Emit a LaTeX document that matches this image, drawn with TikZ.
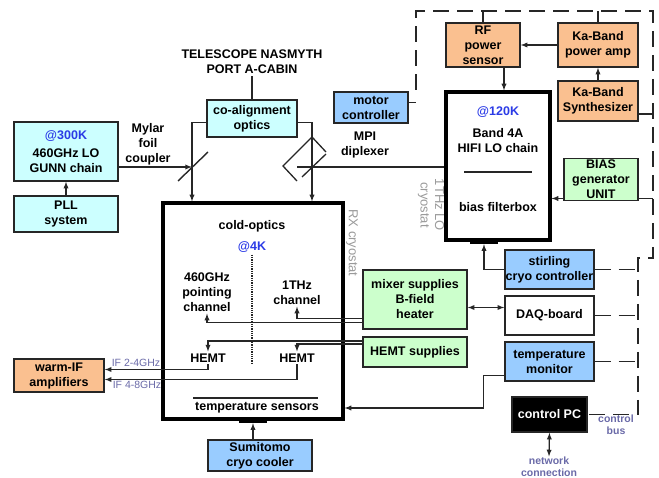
\documentclass[tikz,border=0pt]{standalone}
\usepackage{fontspec}
\setmainfont{Liberation Sans}
\usetikzlibrary{arrows, calc, positioning}
\definecolor{cyanfill}{HTML}{CCFFFF}
\definecolor{warmfill}{HTML}{FAC090}
\definecolor{bluefill}{HTML}{99CCFF}
\definecolor{greenfill}{HTML}{CCFFCC}
\definecolor{tempblue}{HTML}{2B3BE6}
\definecolor{labelgray}{HTML}{9A9A9A}
\definecolor{busslate}{HTML}{6A6AA8}
\tikzstyle{block} = [rectangle, draw=black!85, line width=1.4pt, align=center, inner sep=0pt, font=\fontsize{12.5}{15}\selectfont\bfseries]
\tikzstyle{cryo} = [rectangle, draw=black, line width=3.2pt, inner sep=0pt]
\tikzstyle{txt} = [align=center, inner sep=2pt, font=\fontsize{12.5}{15}\selectfont\bfseries]
\tikzstyle{temp} = [txt, text=tempblue]
\tikzstyle{side} = [align=center, inner sep=0pt, font=\fontsize{13}{14.5}\selectfont, text=labelgray, rotate=-90]
\tikzstyle{note} = [align=center, inner sep=0pt, font=\fontsize{10.5}{12}\selectfont\bfseries, text=busslate]
\tikzstyle{iflabel} = [inner sep=0pt, font=\fontsize{10.5}{12}\selectfont, text=busslate]
\tikzstyle{wire} = [line width=1.3pt, draw=black!85]
\tikzstyle{arrow} = [wire, ->, >=latex]
\tikzstyle{bus} = [wire, line width=1.4pt, dash pattern=on 16pt off 8pt]

\begin{document}
\begin{tikzpicture}[x=1pt, y=-1pt]
		\useasboundingbox (0,0) rectangle (659,478);
		% warm side
		\node (telescope) [txt] at (252,62) {TELESCOPE NASMYTH\\PORT A-CABIN};
		\node (coalign) [block, fill=cyanfill, minimum width=90pt, minimum height=37pt] at (252,118.5) {co-alignment\\optics};
		\node (gunn) [block, fill=cyanfill, minimum width=104pt, minimum height=59pt] at (66,151.5) {\textcolor{tempblue}{@300K}\\[3pt]460GHz LO\\GUNN chain};
		\node (pll) [block, fill=cyanfill, minimum width=104pt, minimum height=36pt] at (66,214) {PLL\\system};
		\node (mylar) [txt] at (148,144) {Mylar\\foil\\coupler};
		\node (mpilabel) [txt] at (365,144.5) {MPI\\diplexer};
		\node (motor) [block, fill=bluefill, minimum width=74pt, minimum height=31pt] at (371,107.5) {motor\\controller};
		\node (warmif) [block, fill=warmfill, minimum width=90pt, minimum height=33pt] at (59,375.5) {warm-IF\\amplifiers};
		\node (if24) [iflabel] at (136,363) {IF 2-4GHz};
		\node (if48) [iflabel] at (137,385) {IF 4-8GHz};
		\coordinate (foil) at (192,167);
		\coordinate (mpi) at (312,167);
		% RX cryostat
		\node (rxbox) [cryo, minimum width=180pt, minimum height=216pt] at (253,311) {};
		\node (rxbar) [fill=black, inner sep=0pt, minimum width=28pt, minimum height=4pt] at (253,421) {};
		\node (rxlabel) [side] at (352,243) {RX cryostat};
		\node (coldoptics) [txt] at (252,226) {cold-optics};
		\node (at4k) [temp] at (252,247) {@4K};
		\node (pointing) [txt] at (207,292) {460GHz\\pointing\\channel};
		\node (thz) [txt] at (297,292.5) {1THz\\channel};
		\node (hemtL) [txt] at (208,358) {HEMT};
		\node (hemtR) [txt] at (297,358) {HEMT};
		\node (tsensors) [txt] at (257,408) {temperature sensors};
		\coordinate (dotend) at (252,365);
		\node (sumitomo) [block, fill=bluefill, minimum width=104pt, minimum height=31pt] at (260,455.5) {Sumitomo\\cryo cooler};
		% LO cryostat and rack
		\node (lochain) [cryo, minimum width=104pt, minimum height=148pt] at (498,166) {};
		\node (lobar) [fill=black, inner sep=0pt, minimum width=28pt, minimum height=4pt] at (484,242) {};
		\node (lolabel) [side] at (431,205) {1THz LO\\cryostat};
		\node (at120) [temp] at (498,112) {@120K};
		\node (band) [txt] at (498,140.5) {Band 4A\\HIFI LO chain};
		\node (biasbox) [txt] at (498,207) {bias filterbox};
		\node (rfsensor) [block, fill=warmfill, minimum width=74pt, minimum height=44pt] at (483,45) {RF\\power\\sensor};
		\node (kaamp) [block, fill=warmfill, minimum width=80pt, minimum height=44pt] at (598,45) {Ka-Band\\power amp};
		\node (kasynth) [block, fill=warmfill, minimum width=80pt, minimum height=40pt] at (598,101) {Ka-Band\\Synthesizer};
		\node (biasgen) [block, fill=greenfill, minimum width=74pt, minimum height=42pt] at (601,179.5) {BIAS\\generator\\UNIT};
		\node (mixer) [block, fill=greenfill, minimum width=104pt, minimum height=59pt] at (415,299.5) {mixer supplies\\B-field\\heater};
		\node (hemtsup) [block, fill=greenfill, minimum width=104pt, minimum height=30pt] at (415,352) {HEMT supplies};
		\node (stirling) [block, fill=bluefill, minimum width=89pt, minimum height=39pt] at (549.5,269.5) {stirling\\cryo controller};
		\node (daq) [block, fill=white, minimum width=89pt, minimum height=39pt] at (549.5,315.5) {DAQ-board};
		\node (tempmon) [block, fill=bluefill, minimum width=89pt, minimum height=39pt] at (549.5,361.5) {temperature\\monitor};
		\node (controlpc) [block, fill=black, text=white, minimum width=75pt, minimum height=35pt] at (549.5,414.5) {control PC};
		\node (buslabel) [note] at (616,424.5) {control\\bus};
		\node (network) [note] at (549,466.5) {network\\connection};
		% control bus corners
		\coordinate (busStart) at (416,90);
		\coordinate (busTL) at (416,11);
		\coordinate (busTR) at (653,11);
		\coordinate (busRC) at (653,258);
		\coordinate (busLC) at (638,258);
		\coordinate (busBR) at (638,414.5);
		% optics
		\draw [wire] (telescope) -- (coalign);
		\draw [arrow] (pll) -- (gunn);
		\draw [arrow] (gunn.east |- foil) -- (foil);
		\draw [arrow] ([yshift=-4pt]coalign.west) -| (foil |- rxbox.north);
		\draw [arrow] ([yshift=-4pt]coalign.east) -| (mpi |- rxbox.north);
		\draw [wire, line width=1.4pt] ($(foil)+(-14,14)$) -- ($(foil)+(16,-15)$);
		\draw [wire] ($(mpi)+(-15,14)$) -- ($(mpi)+(-29,-1)$) -- ($(mpi)+(0,-30)$) -- ($(mpi)+(14,-15)$);
		\draw [wire] ($(mpi)+(14,-13)$) -- ($(mpi)+(-10,10)$);
		\draw [wire] ($(mpi)+(-15,0)$) -- (lochain.west |- mpi);
		% inside RX cryostat
		\draw [wire, densely dotted] (at4k.south) -- (dotend);
		\draw [wire] (193,398) -- (318,398);
		\draw [arrow] ([yshift=-19pt]mixer.west) -| (thz.south);
		\draw [arrow] ([yshift=-23pt]mixer.west) -| (pointing.south);
		\draw [arrow] ([yshift=11pt]hemtsup.west) -| (hemtL.north);
		\draw [arrow] ([yshift=8pt]hemtsup.west) -| (hemtR.north);
		\draw [arrow] (hemtL.south) |- ([yshift=6pt]warmif.east);
		\draw [arrow] (hemtR.south) |- ([yshift=-4pt]warmif.east);
		\draw [arrow] ([yshift=-14pt]tempmon.west) -- ++(-21,0) |- (rxbox.east |- tsensors);
		\draw [arrow] (sumitomo.north -| rxbar) -- (rxbar.south);
		% LO chain
		\draw [wire] (464,172) -- (532,172);
		\draw [arrow] (kaamp.west) -- (rfsensor.east);
		\draw [arrow] (kasynth) -- (kaamp);
		\draw [arrow] (rfsensor.south -| 504,0) -- (lochain.north -| 504,0);
		\draw [arrow] ([yshift=-19pt]biasgen.west) -- ([yshift=-19pt]biasgen.west -| lochain.east);
		\draw [arrow] (stirling.west) -| (lobar.south);
		\draw [arrow, <->] ([yshift=-8pt]mixer.east) -- ([yshift=-8pt]mixer.east -| daq.west);
		\draw [arrow, <->] (controlpc.south) -- (network.north);
		% control bus
		\draw [bus] (busStart) -- (busTL) -- (busTR) -- (busRC) -- (busLC) -- (busBR) -- (controlpc.east);
		\draw [wire] ([yshift=5pt]motor.east) -- ([yshift=5pt]motor.east -| busTL);
		\draw [wire] (rfsensor.north) -- (rfsensor.north |- busTL);
		\draw [wire] (kaamp.north) -- (kaamp.north |- busTL);
		\draw [wire] ([yshift=-13pt]kasynth.east) -- ([yshift=-13pt]kasynth.east -| busTR);
		\draw [wire] ([yshift=-19pt]biasgen.east) -- ([yshift=-19pt]biasgen.east -| busTR);
		\draw [bus] (stirling.east) -- (stirling.east -| busLC);
		\draw [bus] (daq.east) -- (daq.east -| busLC);
		\draw [bus] (tempmon.east) -- (tempmon.east -| busLC);
\end{tikzpicture}
\end{document}
